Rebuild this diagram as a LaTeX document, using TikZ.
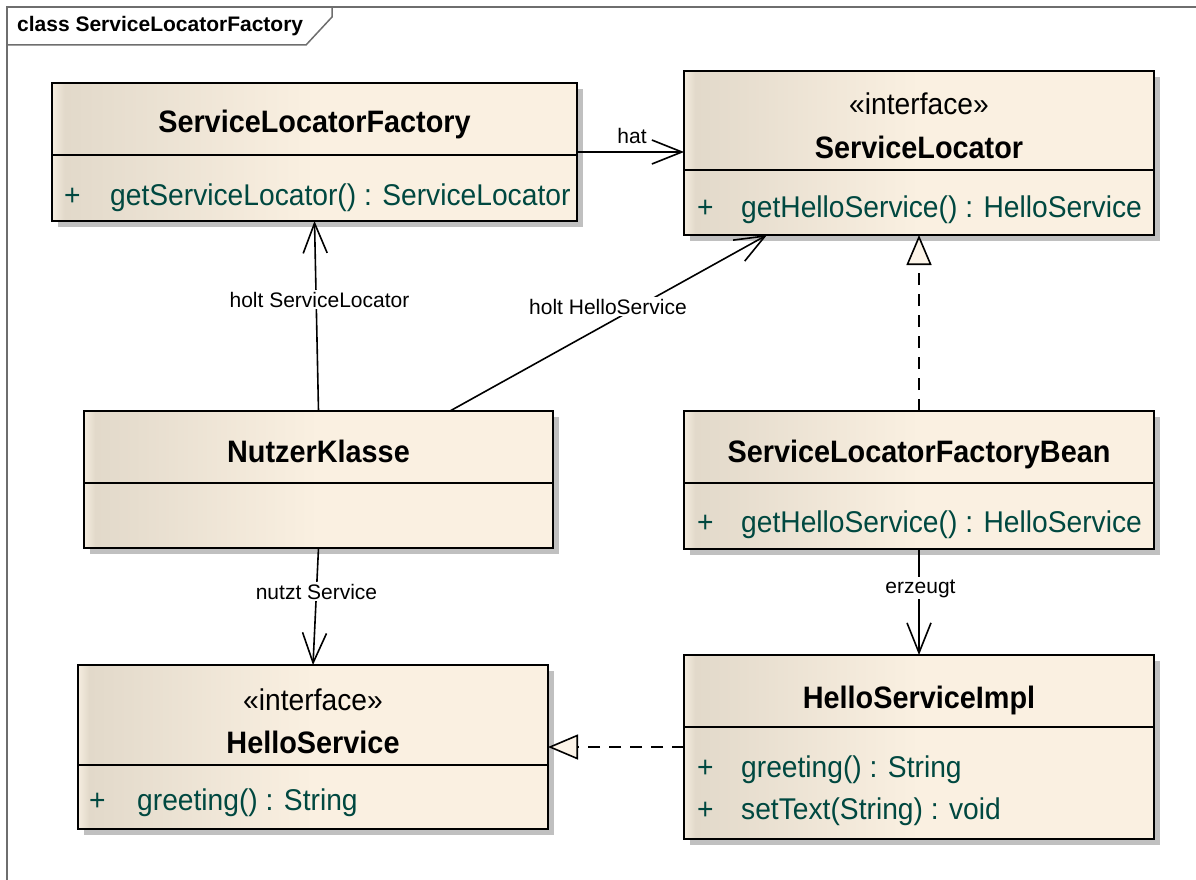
\documentclass[tikz,border=0pt]{standalone}
\usepackage{fontspec}
\setmainfont{Liberation Sans}
\newfontfamily\boxfont[FakeStretch=0.93]{Liberation Sans}
\newfontfamily\methfont[FakeStretch=0.94]{Liberation Sans}
\usetikzlibrary{arrows.meta,shadows}

\definecolor{cfA}{RGB}{245,237,224}
\definecolor{cfB}{RGB}{226,217,202}
\definecolor{cfC}{RGB}{250,240,225}
\definecolor{shadowgray}{RGB}{192,192,192}
\definecolor{methcol}{RGB}{0,72,64}
\definecolor{framecol}{RGB}{110,110,110}
\definecolor{trifill}{RGB}{252,244,232}

% class compartment fill: thin light strip, darker band, fading to cream
\pgfdeclarehorizontalshading{classfill}{100bp}{color(0bp)=(cfA); color(25bp)=(cfA); color(26.2bp)=(cfB); color(50bp)=(cfC); color(75bp)=(cfC); color(100bp)=(cfC)}

\tikzset{
  classbox/.style={rectangle, draw=black, line width=2.6pt, shading=classfill,
    inner sep=0pt, outer sep=0pt, anchor=north west,
    general shadow={fill=shadowgray, shadow xshift=6pt, shadow yshift=-6pt}},
  divider/.style={line width=2pt},
  cname/.style={anchor=base, inner sep=0pt, font=\boxfont\bfseries\fontsize{31}{36}\selectfont},
  stereo/.style={anchor=base, inner sep=0pt, font=\methfont\fontsize{30}{36}\selectfont},
  plus/.style={anchor=base west, inner sep=0pt, text=methcol, font=\methfont\fontsize{30}{36}\selectfont},
  meth/.style={anchor=base west, inner sep=0pt, text=methcol, font=\methfont\fontsize{30}{36}\selectfont},
  lbl/.style={anchor=base, fill=white, inner sep=2pt, font=\fontsize{21}{25}\selectfont},
  assoc/.style={line width=1.6pt, -{Straight Barb[length=30pt,width=24pt,line width=1.6pt]}},
  realize/.style={line width=1.6pt, dash pattern=on 12pt off 9pt,
    -{Triangle[length=30pt,width=25pt,fill=trifill,line width=1.6pt]}},
}

\newcommand\classbox[6]{%
  \node[classbox, minimum width={#4-#2}, minimum height={#5-#3}] (#1) at (#2,#3) {};
  \draw[divider] (#2,#6) -- (#4,#6);}

\begin{document}
\begin{tikzpicture}[x=1pt,y=-1pt]
\useasboundingbox (0,0) rectangle (1196,880);

% diagram frame and its name tab
\draw[framecol, line width=1.5pt] (7,880) -- (7,7) -- (1196,7);
\node[anchor=base west, inner sep=0pt, font=\bfseries\fontsize{21}{25}\selectfont] (title) at (17,32) {class ServiceLocatorFactory};
\draw[framecol, line width=1.5pt] (7,45) -- (306,45) -- (332,17) -- (332,7);

% classes
\classbox{slf}{52}{83}{577}{221}{155}
\node[cname] (slf-name) at (314.5,132) {ServiceLocatorFactory};
\node[plus] (slf-p) at (64,205) {+};
\node[meth] (slf-m) at (110,205) {getServiceLocator() : ServiceLocator};

\classbox{sl}{684}{71}{1154}{235}{170}
\node[stereo] (sl-st) at (919,115) {«interface»};
\node[cname] (sl-name) at (919,158) {ServiceLocator};
\node[plus] (sl-p) at (697,217) {+};
\node[meth] (sl-m) at (741,217) {getHelloService() : HelloService};

\classbox{nk}{84}{411}{553}{548}{483}
\node[cname] (nk-name) at (318.5,462) {NutzerKlasse};

\classbox{slfb}{684}{411}{1154}{549}{483}
\node[cname] (slfb-name) at (919,462) {ServiceLocatorFactoryBean};
\node[plus] (slfb-p) at (697,532) {+};
\node[meth] (slfb-m) at (741,532) {getHelloService() : HelloService};

\classbox{hs}{78}{665}{548}{829}{765}
\node[stereo] (hs-st) at (313,710) {«interface»};
\node[cname] (hs-name) at (313,753) {HelloService};
\node[plus] (hs-p) at (89,810) {+};
\node[meth] (hs-m) at (137,810) {greeting() : String};

\classbox{hsi}{684}{655}{1154}{839}{727}
\node[cname] (hsi-name) at (919,708) {HelloServiceImpl};
\node[plus] (hsi-p1) at (697,777) {+};
\node[meth] (hsi-m1) at (741,777) {greeting() : String};
\node[plus] (hsi-p2) at (697,819) {+};
\node[meth] (hsi-m2) at (741,819) {setText(String) : void};

% relations
\draw[assoc] (slf.east) -- (slf.east -| sl.west);
\draw[assoc] (nk.north) -- (slf.south);
\draw[assoc] ([xshift=131.5pt]nk.north) -- ([xshift=-152pt]sl.south);
\draw[realize] (slfb.north) -- (sl.south);
\draw[assoc] (slfb.south) -- (hsi.north);
\draw[assoc] (nk.south) -- (hs.north);
\draw[realize] (hsi.west) -- (hsi.west -| hs.east);

% relation labels
\node[lbl, fill=none] (l-hat) at (632,143) {hat};
\node[lbl] (l-holtsl) at (319.5,307) {holt ServiceLocator};
\node[lbl] (l-holths) at (608,314) {holt HelloService};
\node[lbl] (l-nutzt) at (316.5,599) {nutzt Service};
\node[lbl] (l-erz) at (920.5,593) {erzeugt};
\end{tikzpicture}
\end{document}
